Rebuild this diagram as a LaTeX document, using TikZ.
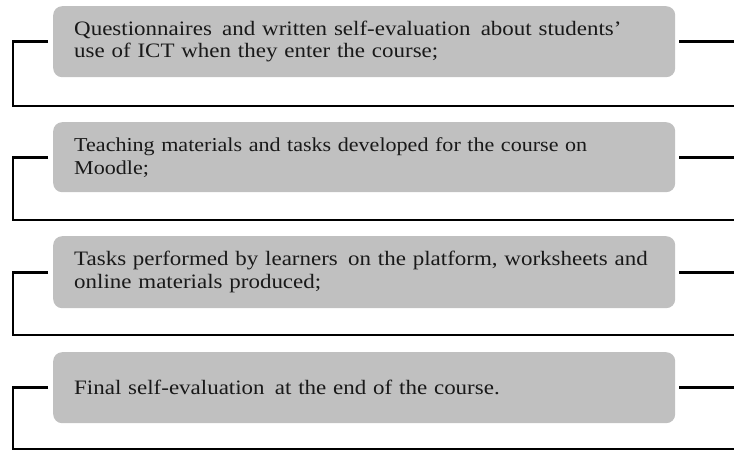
\documentclass[tikz,border=0pt]{standalone}
\usepackage{fontspec}
\setmainfont{Liberation Serif}[FakeStretch=1.12]
\usetikzlibrary{calc}
\definecolor{boxgray}{HTML}{C0C0C0}
\tikzset{
  itembox/.style={fill=boxgray, rounded corners=9pt, minimum width=622pt, minimum height=71pt,
    inner xsep=21pt, inner ysep=0pt, text width=580pt, align=left, anchor=north west,
    font=\fontsize{20.5}{23}\selectfont, text=black!90},
  bracket/.style={line width=2.6pt, black}
}
\begin{document}
\begin{tikzpicture}[x=1pt,y=-1pt]
\useasboundingbox (0,0) rectangle (734,450);
\node[itembox, font=\fontsize{20.5}{22}\selectfont] (b1) at (53,6) {Questionnaires\, and written self-evaluation\, about students’\\use of ICT when they enter the course;};
\node[itembox, minimum height=70pt, font=\fontsize{19.7}{23}\selectfont] (b2) at (53,122) {Teaching materials and tasks developed for the course on\\Moodle;};
\node[itembox, minimum height=72pt] (b3) at (53,236) {Tasks performed by learners\, on the platform, worksheets and\\online materials produced;};
\node[itembox] (b4) at (53,352) {Final self-evaluation\, at the end of the course.};
\foreach \b/\y in {b1/106, b2/220, b3/335, b4/449}{
  \coordinate (\b L) at ($(\b.west)+(-40,0)$);
  \coordinate (\b R) at ($(\b.east)+(59,0)$);
  \coordinate (\b BL) at (\b L |- 0,\y);
  \coordinate (\b BR) at (734,\y);
  \draw[bracket] ($(\b.west)+(-5,0)$) -- (\b L) -- (\b BL) -- (\b BR);
  \draw[bracket] ($(\b.east)+(4,0)$) -- (\b R);
}
\end{tikzpicture}
\end{document}
